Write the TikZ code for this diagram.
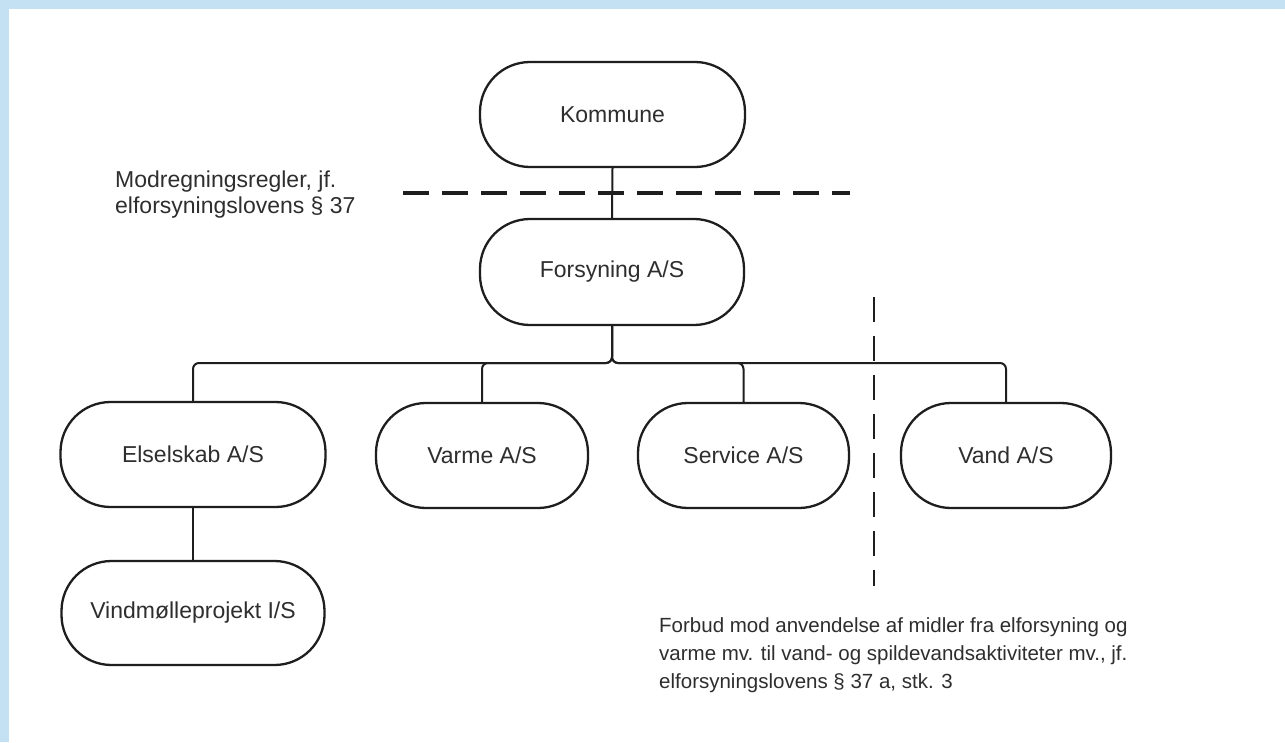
\documentclass[tikz,border=0pt]{standalone}
\usepackage{fontspec}
\setmainfont{Liberation Sans}
\definecolor{framecol}{HTML}{C3E1F2}
\definecolor{linecol}{HTML}{1E1E1E}
\definecolor{textcol}{HTML}{2E2E2E}
\begin{document}
\begin{tikzpicture}[x=1pt,y=-1pt,
  unit/.style={draw=linecol, line width=2.3pt, fill=white, rounded corners=50pt,
    minimum height=105pt, inner sep=0pt, text=textcol,
    font=\fontsize{23}{27}\selectfont},
  link/.style={draw=linecol, line width=2pt, rounded corners=6pt},
  rulehoriz/.style={draw=linecol, line width=3.5pt, dash pattern=on 26pt off 13pt},
  rulevert/.style={draw=linecol, line width=2pt, dash pattern=on 25pt off 14pt},
  note/.style={text=textcol, align=left, inner sep=0pt}
]
% page with a light blue edge on the top and left
\fill[framecol] (0,0) rectangle (1285,742);
\fill[white] (9,9) rectangle (1285,742);
\useasboundingbox (0,0) rectangle (1285,742);

% organisation units
\node[unit, minimum width=265pt] (kom)  at (612.5,114.5) {Kommune};
\node[unit, minimum width=264pt, minimum height=106pt] (for)  at (612,272) {Forsyning A/S};
\node[unit, minimum width=265pt] (els)  at (193,454.5) {Elselskab A/S};
\node[unit, minimum width=212pt] (var)  at (482,455.5) {Varme A/S};
\node[unit, minimum width=211pt] (ser)  at (743.5,455.5) {Service A/S};
\node[unit, minimum width=210pt] (van)  at (1006,455.5) {Vand A/S};
\node[unit, minimum width=263pt, minimum height=104pt] (vin) at (193,613) {Vindmølleprojekt I/S};

% ownership lines
\coordinate (bus) at (612,363);
\draw[link] (kom.south) -- (for.north);
\draw[link] (for.south) -- (bus) -| (els.north);
\draw[link] (for.south) -- (bus) -| (var.north);
\draw[link] (for.south) -- (bus) -| (ser.north);
\draw[link] (for.south) -- (bus) -| (van.north);
\draw[link] (els.south) -- (vin.north);

% legal boundaries
\coordinate (hA) at (403,193);
\coordinate (hB) at (850,193);
\draw[rulehoriz] (hA) -- (hB);
\coordinate (vA) at (874,297);
\coordinate (vB) at (874,586);
\draw[rulevert] (vA) -- (vB);

% annotations (base anchor sits on the last line)
\node[note, anchor=base west, font=\fontsize{23}{26.5}\selectfont] (mod) at (115,213.5)
  {Modregningsregler, jf.\\elforsyningslovens § 37};
\node[note, anchor=base west, font=\fontsize{20.5}{28}\selectfont] (forb) at (659,688)
  {Forbud mod anvendelse af midler fra elforsyning og\\varme mv. til vand- og spildevandsaktiviteter mv., jf.\\elforsyningslovens § 37 a, stk. 3};
\end{tikzpicture}
\end{document}
